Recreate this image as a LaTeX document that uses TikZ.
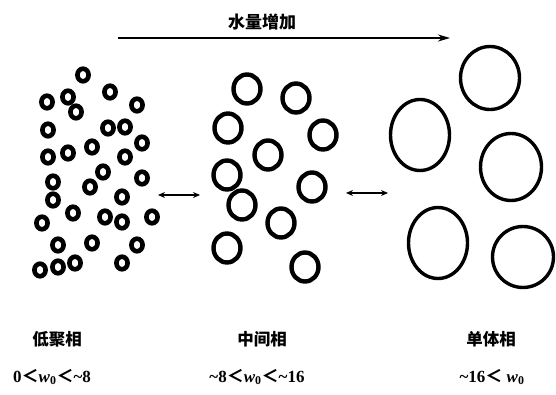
\documentclass[tikz,border=0pt]{standalone}
\usepackage{fontspec}
\setmainfont{Liberation Serif}
\newfontfamily\cjk{Noto Sans CJK SC}
\newcommand{\lt}{{\cjk ＜}}
\usetikzlibrary{arrows.meta}
\begin{document}
\begin{tikzpicture}[x=1pt,y=-1pt,
  smallmic/.style={line width=4.6pt},
  midmic/.style={line width=4.4pt},
  bigmic/.style={line width=3.4pt},
  trendarrow/.style={line width=2pt,-{Stealth[length=12pt,width=7pt]}},
  equilarrow/.style={line width=1.4pt,{Stealth[length=7pt,width=6pt]}-{Stealth[length=7pt,width=6pt]}},
  phasename/.style={font=\cjk\bfseries\fontsize{16.5}{18}\selectfont},
  wrange/.style={font=\bfseries\fontsize{17}{19}\selectfont}]
\useasboundingbox (0,0) rectangle (556,395);

% oligomer phase: small, densely packed micelles
\foreach \x/\y in {83/75, 47/102, 68/97, 76/112, 110/92, 137/105, 48/130, 108/128,
  125/127, 142/143, 48/157, 68/153, 92/147, 125/157, 103/172, 90/187, 53/182,
  53/200, 142/178, 122/197, 73/213, 105/217, 122/222, 152/217, 42/223, 58/245,
  92/243, 137/245, 40/270, 58/267, 75/263, 122/263}
  \draw[smallmic] (\x,\y) ellipse [x radius=5.6, y radius=6.3];

% intermediate phase
\foreach \x/\y in {247/89, 296/98, 228/128, 323/135, 268/155, 227/175, 312/187,
  242/205, 281/223, 227/248, 305/267}
  \draw[midmic] (\x,\y) ellipse [x radius=13.5, y radius=14.5];

% monomer phase: large swollen micelles
\draw[bigmic] (490,78)  ellipse [x radius=29.5, y radius=31.5];
\draw[bigmic] (420,135) ellipse [x radius=29.5, y radius=35.5];
\draw[bigmic] (511,167) ellipse [x radius=30.5, y radius=33.5];
\draw[bigmic] (438,243) ellipse [x radius=29.5, y radius=35.5];
\draw[bigmic] (523,257) ellipse [x radius=30.5, y radius=30.5];

% water content arrow
\coordinate (wstart) at (118,38);
\coordinate (wend) at (450,38);
\draw[trendarrow] (wstart) -- (wend);
\node[font=\cjk\bfseries\fontsize{17}{19}\selectfont] (water) at (262,22) {水量增加};

% equilibria between phases
\coordinate (e1a) at (158,195);
\coordinate (e1b) at (200,195);
\coordinate (e2a) at (346,193);
\coordinate (e2b) at (388,193);
\draw[equilarrow] (e1a) -- (e1b);
\draw[equilarrow] (e2a) -- (e2b);

% phase names
\node[phasename] (p1) at (57,339) {低聚相};
\node[phasename] (p2) at (262,339) {中间相};
\node[phasename] (p3) at (491,339) {单体相};

% water content ranges
\node[wrange] (r1) at (52,377) {0\lt\textit{w}\textsubscript{0}\lt\char`~8};
\node[wrange] (r2) at (257,377) {\char`~8\lt\textit{w}\textsubscript{0}\lt\char`~16};
\node[wrange] (r3) at (492,377) {\char`~16\lt\ \textit{w}\textsubscript{0}};
\end{tikzpicture}
\end{document}
